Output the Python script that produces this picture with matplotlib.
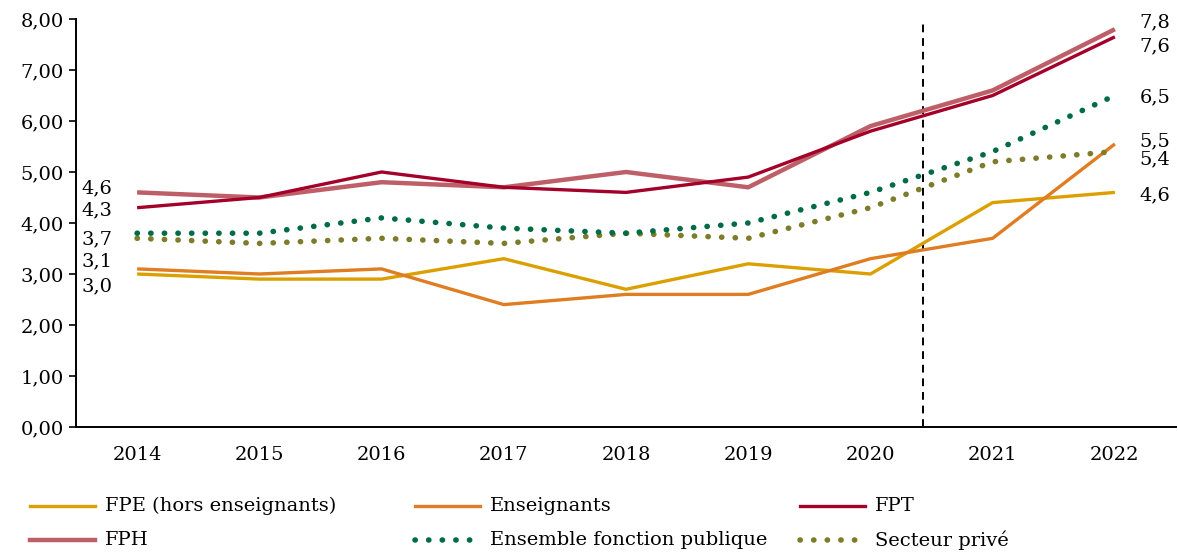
import matplotlib
matplotlib.use("Agg")
import matplotlib.pyplot as plt
from matplotlib.lines import Line2D
from matplotlib.ticker import FuncFormatter

plt.rcParams['font.family'] = ['DejaVu Serif']

years = ["2014", "2015", "2016", "2017", "2018", "2019", "2020", "2021", "2022"]
fpe = [3.0, 2.9, 2.9, 3.3, 2.7, 3.2, 3.0, 4.4, 4.6]
enseignants = [3.1, 3.0, 3.1, 2.4, 2.6, 2.6, 3.3, 3.7, 5.55]
fpt = [4.3, 4.5, 5.0, 4.7, 4.6, 4.9, 5.8, 6.5, 7.65]
fph = [4.6, 4.5, 4.8, 4.7, 5.0, 4.7, 5.9, 6.6, 7.8]
ensemble = [3.8, 3.8, 4.1, 3.9, 3.8, 4.0, 4.6, 5.4, 6.5]
prive = [3.7, 3.6, 3.7, 3.6, 3.8, 3.7, 4.3, 5.2, 5.4]

names = ["FPE (hors enseignants)", "Enseignants", "FPT", "FPH",
         "Ensemble fonction publique", "Secteur privé"]
colors = ["#DBA000", "#E07C22", "#A3002A", "#BE5F68", "#006B45", "#7C7C2A"]

left_labels = ["4,6", "4,3", "3,7", "3,1", "3,0"]
left_label_y = [4.67, 4.25, 3.67, 3.24, 2.75]
right_labels = ["7,8", "7,6", "6,5", "5,5", "5,4", "4,6"]
right_label_y = [7.94, 7.47, 6.47, 5.6, 5.24, 4.55]

FS = 14
W, H = 1178, 554

fig = plt.figure(figsize=(11.78, 5.54), dpi=100)
ax = fig.add_axes([76/W, 1 - 427/H, 1100/W, 408/H])

x = list(range(len(years)))
widths = [2.4, 2.4, 2.4, 3.2]
series = [fpe, enseignants, fpt, fph]
for i in [0, 1, 3, 2]:
    ax.plot(x, series[i], color=colors[i], lw=widths[i], solid_capstyle='butt', zorder=3)
dot = (0, (0.05, 2.4))
DW = 4.0
ax.plot(x, prive, color=colors[5], lw=DW, linestyle=dot, dash_capstyle='round', zorder=3)
ax.plot(x, ensemble, color=colors[4], lw=DW, linestyle=dot, dash_capstyle='round', zorder=3)

ax.axvline(6.43, ymax=0.99, color='black', lw=1.4, linestyle=(0, (4, 3)), zorder=2)

ax.set_xlim(-0.5, 8.5)
ax.set_ylim(0, 8)
ax.set_xticks(x)
ax.set_xticklabels(years)
ax.set_yticks(range(0, 9))
ax.yaxis.set_major_formatter(FuncFormatter(lambda v, p: f"{v:.2f}".replace('.', ',')))
ax.tick_params(axis='x', length=0, pad=14, labelsize=FS)
ax.tick_params(axis='y', length=5, width=1.2, direction='out', labelsize=FS, pad=4)
for s in ['top', 'right']:
    ax.spines[s].set_visible(False)
ax.spines['left'].set_linewidth(1.4)
ax.spines['bottom'].set_linewidth(1.4)

for t, yv in zip(left_labels, left_label_y):
    ax.text(-0.2, yv, t, ha='right', va='center', fontsize=FS)
for t, yv in zip(right_labels, right_label_y):
    ax.text(8.2, yv, t, ha='left', va='center', fontsize=FS)

# legend drawn in figure coordinates, row-major like the reference
styles = [
    dict(lw=2.4), dict(lw=2.4), dict(lw=2.4), dict(lw=3.2),
    dict(lw=DW, linestyle=dot, dash_capstyle='round'),
    dict(lw=DW, linestyle=dot, dash_capstyle='round'),
]
col_px = [30, 415, 800]
row_px = [506, 540]
for k in range(6):
    r, c = divmod(k, 3)
    x0 = col_px[c] / W
    yy = 1 - row_px[r] / H
    fig.add_artist(Line2D([x0, x0 + 65 / W], [yy, yy], color=colors[k],
                          transform=fig.transFigure, **styles[k]))
    fig.text(x0 + 75 / W, yy, names[k], ha='left', va='center', fontsize=FS)

fig.savefig("out.png", dpi=100)
